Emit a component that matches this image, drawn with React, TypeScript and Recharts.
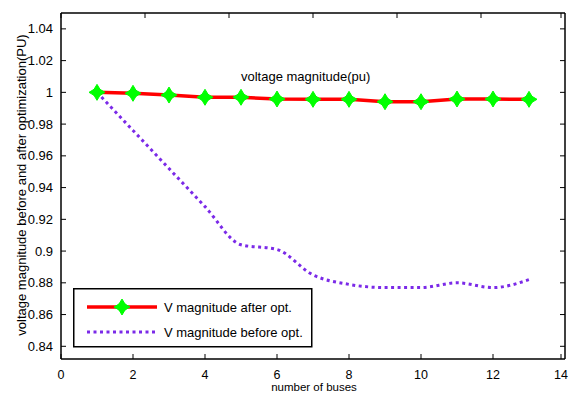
import React from 'react';
import { LineChart, Line, XAxis, YAxis, Legend } from 'recharts';

const buses = [1, 2, 3, 4, 5, 6, 7, 8, 9, 10, 11, 12, 13];
const afterOpt = [1, 0.9994, 0.9983, 0.9969, 0.9969, 0.9958, 0.9956, 0.9956, 0.9941, 0.9941, 0.9958, 0.9958, 0.9956];
const beforeOpt = [1, 0.976, 0.952, 0.928, 0.904, 0.901, 0.885, 0.879, 0.877, 0.877, 0.88, 0.877, 0.882];
const xTicks = [0, 2, 4, 6, 8, 10, 12, 14];
const yTicks = [0.84, 0.86, 0.88, 0.9, 0.92, 0.94, 0.96, 0.98, 1, 1.02, 1.04];

const chartData = buses.map((b, i) => ({ bus: b, after: afterOpt[i], before: beforeOpt[i] }));

const FONT = '"Liberation Sans", Arial, sans-serif';
const RED = '#ff0000';
const GREEN = '#00ff00';
const PURPLE = '#7b2ae8';

const Star = ({ cx, cy }: { cx: number; cy: number }) => (
    <g>
        <polygon
            points={`${cx},${cy - 8} ${cx + 3},${cy - 3} ${cx + 8},${cy} ${cx + 3},${cy + 3} ${cx},${cy + 8} ${cx - 3},${cy + 3} ${cx - 8},${cy} ${cx - 3},${cy - 3}`}
            fill={GREEN}
            stroke={GREEN}
            strokeWidth={1}
        />
        <circle cx={cx} cy={cy} r={4.5} fill={GREEN} />
    </g>
);

const fmt = (v: number) => String(Number(v.toFixed(2)));

const BottomTick = (props: any) => {
    const { x, y, payload } = props;
    return (
        <g>
            <line x1={x} x2={x} y1={y} y2={y - 5} stroke="#000" />
            <text x={x} y={y + 20} textAnchor="middle" fontSize={12.5} fontFamily={FONT} fill="#000">
                {payload.value}
            </text>
        </g>
    );
};

const TopTick = (props: any) => {
    const { x, y } = props;
    return <line x1={x} x2={x} y1={y} y2={y + 5} stroke="#000" />;
};

const LeftTick = (props: any) => {
    const { x, y, payload } = props;
    return (
        <g>
            <line x1={x} x2={x + 5} y1={y} y2={y} stroke="#000" />
            <text x={x - 8} y={y + 4.5} textAnchor="end" fontSize={13} fontFamily={FONT} fill="#000">
                {fmt(payload.value)}
            </text>
        </g>
    );
};

const RightTick = (props: any) => {
    const { x, y } = props;
    return <line x1={x} x2={x - 5} y1={y} y2={y} stroke="#000" />;
};

const LegendBox = (props: any) => {
    const items = props.payload || [];
    return (
        <svg width={240} height={60} style={{ display: 'block', overflow: 'visible' }}>
            <rect x={0.75} y={0.75} width={238} height={58} fill="#fff" stroke="#000" strokeWidth={1.5} />
            {items.map((it: any, i: number) => {
                const y = 19 + i * 25;
                const isAfter = it.dataKey === 'after';
                return (
                    <g key={it.value}>
                        {isAfter ? (
                            <>
                                <line x1={14} x2={84} y1={y} y2={y} stroke={RED} strokeWidth={3.5} />
                                <Star cx={49} cy={y} />
                            </>
                        ) : (
                            <line x1={14} x2={84} y1={y} y2={y} stroke={PURPLE} strokeWidth={3} strokeDasharray="3 3.5" />
                        )}
                        <text x={91} y={y + 4.5} fontSize={13} fontFamily={FONT} fill="#000">
                            {it.value}
                        </text>
                    </g>
                );
            })}
        </svg>
    );
};

export default function App() {
    return (
        <div style={{ position: 'relative', width: 569, height: 394, background: '#fff', fontFamily: FONT, overflow: 'hidden' }}>
            <style>{'body{margin:0}'}</style>
            <LineChart width={569} height={394} data={chartData} margin={{ top: 12, right: 3, bottom: 34, left: 60 }}>
                <XAxis
                    xAxisId="b"
                    dataKey="bus"
                    type="number"
                    domain={[0, 14]}
                    ticks={xTicks}
                    height={1}
                    tickSize={0}
                    tickMargin={0}
                    tickLine={false}
                    tick={<BottomTick />}
                    axisLine={{ stroke: '#000', strokeWidth: 1.5 }}
                    allowDataOverflow
                />
                <XAxis
                    xAxisId="t"
                    orientation="top"
                    type="number"
                    domain={[0, 14]}
                    ticks={xTicks}
                    height={1}
                    tickSize={0}
                    tickMargin={0}
                    tickLine={false}
                    tick={<TopTick />}
                    axisLine={{ stroke: '#000', strokeWidth: 1.5 }}
                    allowDataOverflow
                />
                <YAxis
                    yAxisId="l"
                    type="number"
                    domain={[0.832, 1.05]}
                    ticks={yTicks}
                    width={1}
                    tickSize={0}
                    tickMargin={0}
                    tickLine={false}
                    tick={<LeftTick />}
                    axisLine={{ stroke: '#000', strokeWidth: 1.5 }}
                    allowDataOverflow
                />
                <YAxis
                    yAxisId="r"
                    orientation="right"
                    type="number"
                    domain={[0.832, 1.05]}
                    ticks={yTicks}
                    width={1}
                    tickSize={0}
                    tickMargin={0}
                    tickLine={false}
                    tick={<RightTick />}
                    axisLine={{ stroke: '#000', strokeWidth: 1.5 }}
                    allowDataOverflow
                />
                <Legend
                    content={<LegendBox />}
                    wrapperStyle={{ position: 'absolute', left: 73, top: 288, width: 240, height: 0, overflow: 'visible' }}
                />
                <Line
                    xAxisId="b"
                    yAxisId="l"
                    name="V magnitude after opt."
                    dataKey="after"
                    type="linear"
                    stroke={RED}
                    strokeWidth={3.5}
                    dot={(p: any) => <Star key={p.index} cx={p.cx} cy={p.cy} />}
                    activeDot={false}
                    isAnimationActive={false}
                />
                <Line
                    xAxisId="b"
                    yAxisId="l"
                    name="V magnitude before opt."
                    dataKey="before"
                    type="monotone"
                    stroke={PURPLE}
                    strokeWidth={3}
                    strokeDasharray="3 3.5"
                    dot={false}
                    activeDot={false}
                    isAnimationActive={false}
                />
            </LineChart>
            <div style={{ position: 'absolute', left: 314, top: 381, transform: 'translateX(-50%)', fontSize: 11.5, lineHeight: '12px', whiteSpace: 'nowrap' }}>
                number of buses
            </div>
            <div style={{ position: 'absolute', left: 241, top: 69, fontSize: 13, lineHeight: '16px', whiteSpace: 'nowrap' }}>
                voltage magnitude(pu)
            </div>
            <div
                style={{
                    position: 'absolute',
                    left: 21,
                    top: 185,
                    transform: 'translate(-50%, -50%) rotate(-90deg)',
                    fontSize: 13,
                    lineHeight: '15px',
                    whiteSpace: 'nowrap',
                }}
            >
                voltage magnitude before and after optimization(PU)
            </div>
        </div>
    );
}
